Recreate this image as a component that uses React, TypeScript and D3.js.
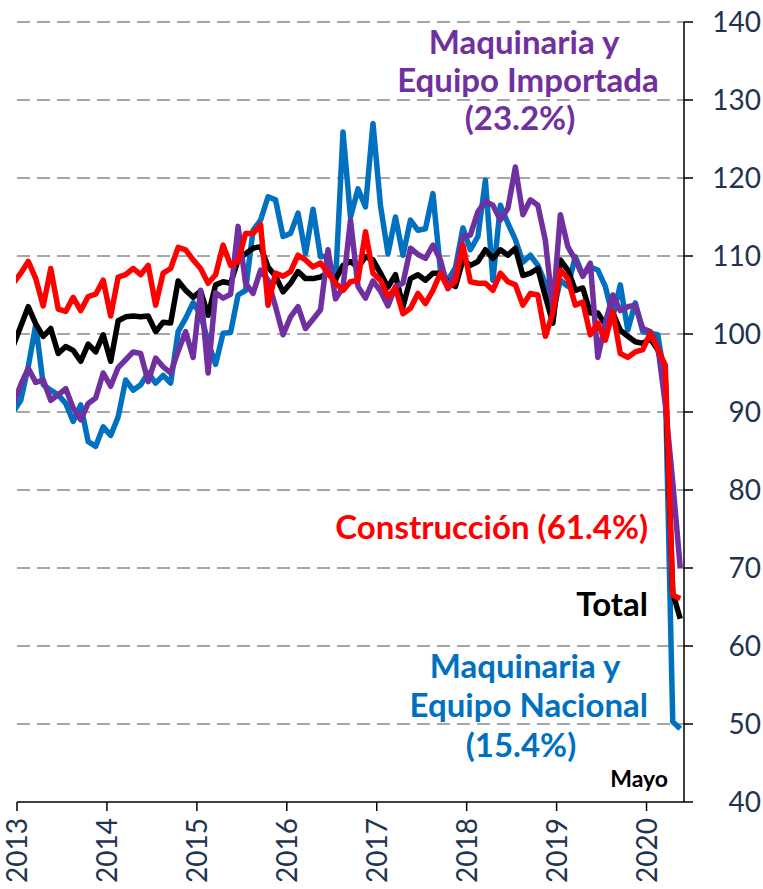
import React, { useEffect, useRef } from "react";
import * as d3 from "d3";

// months: Dec 2012 (lead-in, clipped) .. May 2020
const months = d3.timeMonths(new Date(2012, 11, 1), new Date(2020, 5, 1));
const years = ["2013", "2014", "2015", "2016", "2017", "2018", "2019", "2020"];
const yTicks = [40, 50, 60, 70, 80, 90, 100, 110, 120, 130, 140];

const construccion = [
  106.5, 107.8, 109.3, 107.1, 103.6, 108.4, 103.2, 102.9, 104.7, 103.0, 104.8, 105.1, 106.9,
  102.3, 107.3, 107.6, 108.4, 107.6, 108.8, 103.7, 107.8, 108.4, 111.1, 110.8, 109.5,
  108.4, 106.5, 107.6, 111.4, 108.8, 109.3, 112.9, 112.9, 114.0, 103.7, 107.8, 107.4,
  108.0, 110.1, 109.5, 108.6, 109.1, 107.8, 106.5, 105.6, 106.7, 106.9, 113.1, 107.8,
  106.9, 104.8, 105.9, 102.6, 103.3, 105.2, 103.9, 105.6, 107.8, 105.9, 106.7, 111.4,
  106.7, 106.5, 106.5, 105.6, 107.8, 106.7, 106.3, 103.7, 105.2, 105.0, 99.7, 102.7,
  108.2, 107.1, 103.7, 104.1, 99.9, 101.4, 99.2, 102.9, 97.5, 97.0, 97.7, 98.0,
  100.1, 98.1, 96.0, 66.5, 66.1,
];

const total = [
  98.5, 101.0, 103.5, 101.3, 99.7, 100.7, 97.5, 98.4, 97.9, 96.5, 98.7, 97.7, 99.9,
  96.5, 101.7, 102.2, 102.3, 102.2, 102.3, 100.3, 101.5, 101.4, 106.8, 105.6, 104.7,
  105.5, 102.4, 106.3, 106.7, 106.5, 109.5, 110.3, 111.0, 111.2, 108.6, 107.4, 105.4,
  106.5, 108.0, 107.1, 107.1, 107.3, 107.8, 107.0, 108.8, 109.3, 108.5, 109.9, 109.5,
  107.8, 106.0, 107.6, 103.5, 107.1, 107.6, 106.9, 107.8, 107.8, 106.7, 106.1, 109.5,
  108.8, 109.3, 110.8, 109.7, 110.8, 110.1, 111.0, 107.5, 107.8, 108.4, 104.8, 101.4,
  109.5, 108.2, 105.6, 105.9, 102.7, 102.7, 101.2, 102.7, 100.5, 99.7, 99.0, 98.8,
  99.4, 98.0, 94.5, 66.8, 63.5,
];

const nacional = [
  90.0, 91.5, 95.8, 101.2, 93.5, 92.8, 92.2, 91.1, 88.8, 90.9, 86.2, 85.6, 88.1,
  87.0, 89.4, 94.1, 92.8, 93.5, 95.0, 93.7, 94.7, 93.7, 100.3, 102.0, 104.0,
  102.5, 99.0, 96.1, 100.1, 100.2, 105.0, 105.6, 113.3, 114.6, 117.6, 117.2, 112.5,
  112.9, 115.5, 110.3, 116.0, 109.9, 110.0, 106.6, 125.9, 115.0, 118.6, 116.3, 127.0,
  116.5, 110.3, 115.0, 110.1, 114.6, 113.3, 113.5, 118.0, 108.2, 106.9, 108.5, 113.6,
  110.8, 112.5, 119.7, 106.9, 116.5, 114.2, 112.1, 109.2, 110.1, 108.8, 106.5, 102.6,
  106.9, 106.1, 109.9, 107.6, 108.6, 108.2, 106.1, 102.2, 106.3, 100.5, 104.0, 100.3,
  100.1, 99.9, 94.0, 50.3, 49.4,
];

const importada = [
  91.0, 93.5, 95.6, 93.8, 94.1, 91.5, 92.2, 93.0, 90.5, 89.0, 91.1, 91.8, 95.0,
  93.3, 95.7, 96.7, 97.7, 97.5, 93.9, 96.9, 95.8, 95.0, 97.8, 100.3, 97.0,
  105.6, 95.0, 105.3, 104.6, 105.1, 113.8, 106.5, 105.2, 108.2, 106.9, 103.5, 99.9,
  102.2, 103.5, 100.7, 101.9, 103.1, 110.8, 104.5, 106.0, 114.6, 106.1, 104.6, 106.8,
  105.5, 103.6, 106.1, 106.5, 111.0, 110.2, 109.7, 111.4, 109.5, 105.8, 108.0, 112.5,
  112.7, 115.7, 117.0, 116.5, 114.6, 116.1, 121.4, 115.3, 117.2, 116.5, 112.0, 103.2,
  115.3, 111.2, 109.5, 107.4, 109.1, 97.0, 101.4, 105.0, 103.0, 103.5, 103.7, 100.7,
  100.3, 98.5, 91.0, 81.0, 70.0,
];

const series = [
  { name: "Maquinaria y Equipo Nacional", values: nacional, color: "#0070C0" },
  { name: "Total", values: total, color: "#000000" },
  { name: "Maquinaria y Equipo Importada", values: importada, color: "#7030A0" },
  { name: "Construcción", values: construccion, color: "#FF0000" },
];

export default function App() {
  const ref = useRef<SVGSVGElement>(null);
  const width = 763;
  const height = 889;
  const left = 17, right = 684, top = 22, bottom = 802;
  const axisColor = "#1F3451";

  useEffect(() => {
    const svg = d3.select(ref.current);
    svg.selectAll("*").remove();

    // month index: Jan 2013 = 0, categories centred between ticks
    const x = d3.scaleLinear().domain([0, 89]).range([left, right]);
    const y = d3.scaleLinear().domain([40, 140]).range([bottom, top]);

    svg.append("defs").append("clipPath").attr("id", "plot")
      .append("rect").attr("x", left - 1).attr("y", 0).attr("width", right - left + 1).attr("height", height);

    // gridlines
    svg.append("g").selectAll("line")
      .data(yTicks.filter((d) => d > 40))
      .join("line")
      .attr("x1", left).attr("x2", right)
      .attr("y1", (d) => y(d)).attr("y2", (d) => y(d))
      .attr("stroke", "#A6A6A6").attr("stroke-width", 2)
      .attr("stroke-dasharray", "13,7");

    // lines
    const line = d3.line<number>()
      .x((_, i) => x(i - 1 + 0.5))
      .y((d) => y(d));

    svg.append("g").attr("clip-path", "url(#plot)")
      .selectAll("path")
      .data(series)
      .join("path")
      .attr("d", (d) => line(d.values))
      .attr("fill", "none")
      .attr("stroke", (d) => d.color)
      .attr("stroke-width", 5.5)
      .attr("stroke-linejoin", "round");

    // x axis
    const xa = svg.append("g");
    xa.append("line").attr("x1", left).attr("x2", right).attr("y1", bottom).attr("y2", bottom)
      .attr("stroke", "#000").attr("stroke-width", 1.5);
    xa.selectAll("line.tick").data(years).join("line").attr("class", "tick")
      .attr("x1", (_, i) => x(i * 12)).attr("x2", (_, i) => x(i * 12))
      .attr("y1", bottom).attr("y2", bottom + 9)
      .attr("stroke", "#000").attr("stroke-width", 1.5);
    xa.selectAll("text").data(years).join("text")
      .attr("transform", (_, i) => `translate(${x(i * 12) + 10},818) rotate(-90)`)
      .attr("text-anchor", "end")
      .attr("font-family", "Lato, sans-serif")
      .attr("font-size", 28)
      .attr("fill", axisColor)
      .text((d) => d);

    // y axis (right)
    const ya = svg.append("g");
    ya.append("line").attr("x1", right).attr("x2", right).attr("y1", top).attr("y2", bottom)
      .attr("stroke", "#000").attr("stroke-width", 1.5);
    ya.selectAll("line.tick").data(yTicks).join("line").attr("class", "tick")
      .attr("x1", right).attr("x2", right + 9)
      .attr("y1", (d) => y(d)).attr("y2", (d) => y(d))
      .attr("stroke", "#000").attr("stroke-width", 1.5);
    ya.selectAll("text").data(yTicks).join("text")
      .attr("x", 761).attr("y", (d) => y(d))
      .attr("dy", "0.36em")
      .attr("text-anchor", "end")
      .attr("font-family", "Lato, sans-serif")
      .attr("font-size", 28)
      .attr("fill", axisColor)
      .text((d) => d);

    // series labels
    const labels = [
      { t: "Maquinaria y", x: 524, y: 54, c: "#7030A0", a: "middle", s: 33 },
      { t: "Equipo Importada", x: 528, y: 92, c: "#7030A0", a: "middle", s: 33 },
      { t: "(23.2%)", x: 520, y: 130, c: "#7030A0", a: "middle", s: 33 },
      { t: "Construcción (61.4%)", x: 648, y: 539, c: "#FF0000", a: "end", s: 33 },
      { t: "Total", x: 648, y: 616, c: "#000000", a: "end", s: 33 },
      { t: "Maquinaria y", x: 525, y: 678, c: "#0070C0", a: "middle", s: 33 },
      { t: "Equipo Nacional", x: 648, y: 717, c: "#0070C0", a: "end", s: 33 },
      { t: "(15.4%)", x: 521, y: 757, c: "#0070C0", a: "middle", s: 33 },
      { t: "Mayo", x: 668, y: 787, c: "#000000", a: "end", s: 23 },
    ];
    svg.append("g").selectAll("text").data(labels).join("text")
      .attr("x", (d) => d.x).attr("y", (d) => d.y)
      .attr("text-anchor", (d) => d.a)
      .attr("font-family", "Lato, sans-serif")
      .attr("font-weight", "bold")
      .attr("font-size", (d) => d.s)
      .attr("fill", (d) => d.c)
      .text((d) => d.t);
  }, []);

  return (
    <>
      <style>{`body{margin:0}`}</style>
      <svg ref={ref} width={width} height={height} style={{ display: "block", background: "#fff" }} />
    </>
  );
}
